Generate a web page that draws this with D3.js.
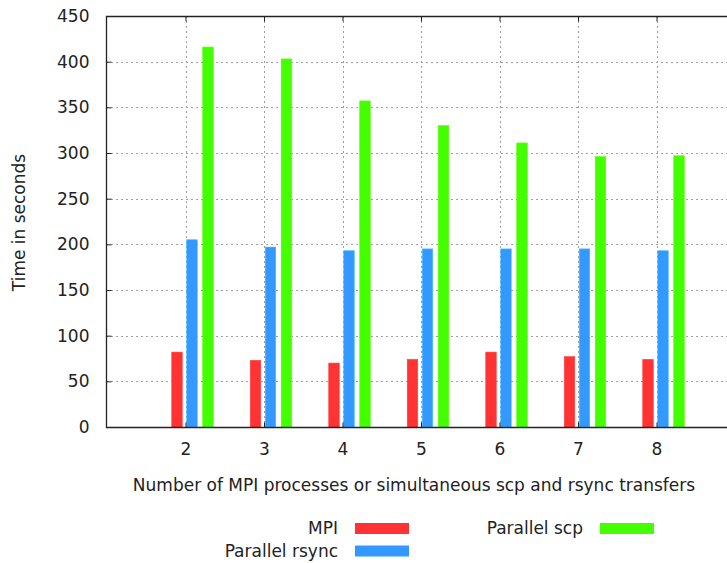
<!DOCTYPE html>
<html>
<head>
<meta charset="utf-8">
<script src="https://cdn.jsdelivr.net/npm/d3@7"></script>
<style>
  html, body { margin: 0; padding: 0; background: #fff; }
  svg { display: block; font-family: "DejaVu Sans", sans-serif; }
</style>
</head>
<body>
<svg id="chart" width="727" height="563"></svg>
<script>
// Transfer timings per number of parallel processes
const processes = [2, 3, 4, 5, 6, 7, 8];
const mpi = [82, 73, 70, 74, 82, 77, 74];
const parallelRsync = [205, 197, 193, 195, 195, 195, 193];
const parallelScp = [416, 403, 357, 330, 311, 296, 297];
const yTicks = [0, 50, 100, 150, 200, 250, 300, 350, 400, 450];

const series = [
  { name: "MPI", values: mpi, color: "#ff3333", offset: -8.5 },
  { name: "Parallel rsync", values: parallelRsync, color: "#3399ff", offset: 6.5 },
  { name: "Parallel scp", values: parallelScp, color: "#44ff00", offset: 22.5 }
];

const FONT = "'DejaVu Sans', sans-serif";
const FS = 17;
const INK = "#222";

const svg = d3.select("#chart");
const plotLeft = 106, plotTop = 16, plotBottom = 427, plotRight = 735;
const x = d3.scaleLinear().domain([1, 9]).range([107, 735]);
const y = d3.scaleLinear().domain([0, 450]).range([plotBottom, plotTop]);

// Dotted grid
const grid = svg.append("g").attr("stroke", "#a0a0a0").attr("stroke-width", 1)
  .attr("stroke-dasharray", "2,3");
grid.selectAll("line.h").data(yTicks.slice(1, -1)).join("line")
  .attr("x1", plotLeft).attr("x2", plotRight)
  .attr("y1", d => Math.round(y(d)) + 0.5).attr("y2", d => Math.round(y(d)) + 0.5);
grid.selectAll("line.v").data(processes).join("line")
  .attr("x1", d => Math.round(x(d)) + 0.5).attr("x2", d => Math.round(x(d)) + 0.5)
  .attr("y1", plotTop).attr("y2", plotBottom);

// Bars
const barW = 10.5;
series.forEach(s => {
  svg.append("g").selectAll("rect").data(s.values).join("rect")
    .attr("x", (d, i) => x(processes[i]) + s.offset - barW / 2)
    .attr("width", barW)
    .attr("y", d => y(d))
    .attr("height", d => y(0) - y(d))
    .attr("fill", s.color)
    .attr("stroke", d3.color(s.color).brighter(0.6))
    .attr("stroke-width", 0.6);
});

// Frame
svg.append("path")
  .attr("d", `M${plotRight},${plotTop + 0.5}H${plotLeft + 0.5}V${plotBottom + 0.5}H${plotRight}`)
  .attr("fill", "none").attr("stroke", INK).attr("stroke-width", 1.3);

// Axes
const styleText = g => g.selectAll("text").attr("font-size", FS).attr("fill", INK)
  .attr("font-family", FONT);

const yAxis = d3.axisLeft(y).tickValues(yTicks).tickSizeInner(-5).tickSizeOuter(0).tickPadding(17);
svg.append("g").attr("transform", `translate(${plotLeft + 0.5},0)`).call(yAxis)
  .call(g => g.select(".domain").remove())
  .call(g => g.selectAll("line").attr("stroke", INK))
  .call(styleText);

const xAxis = d3.axisBottom(x).tickValues(processes).tickFormat(d3.format("d"))
  .tickSizeInner(-5).tickSizeOuter(0).tickPadding(15.4);
svg.append("g").attr("transform", `translate(0,${plotBottom + 0.5})`).call(xAxis)
  .call(g => g.select(".domain").remove())
  .call(g => g.selectAll("line").attr("stroke", INK))
  .call(styleText);

const xTop = d3.axisTop(x).tickValues(processes).tickFormat("").tickSizeInner(-5).tickSizeOuter(0);
svg.append("g").attr("transform", `translate(0,${plotTop + 0.5})`).call(xTop)
  .call(g => g.select(".domain").remove())
  .call(g => g.selectAll("line").attr("stroke", INK));

// Axis titles
svg.append("text")
  .attr("transform", "translate(25,222.5) rotate(-90)")
  .attr("text-anchor", "middle").attr("font-size", FS).attr("fill", INK)
  .text("Time in seconds");
svg.append("text")
  .attr("x", 414).attr("y", 491)
  .attr("text-anchor", "middle").attr("font-size", FS).attr("fill", INK)
  .text("Number of MPI processes or simultaneous scp and rsync transfers");

// Legend
const legendPos = [
  { tx: 338, ty: 534, sx: 355 },
  { tx: 338, ty: 556.5, sx: 355 },
  { tx: 583, ty: 534, sx: 600 }
];
series.forEach((s, i) => {
  const p = legendPos[i];
  svg.append("text").attr("x", p.tx).attr("y", p.ty)
    .attr("text-anchor", "end").attr("font-size", FS).attr("fill", INK)
    .text(s.name);
  svg.append("rect").attr("x", p.sx).attr("y", p.ty - 11).attr("width", 54).attr("height", 11)
    .attr("fill", s.color);
});
</script>
</body>
</html>
